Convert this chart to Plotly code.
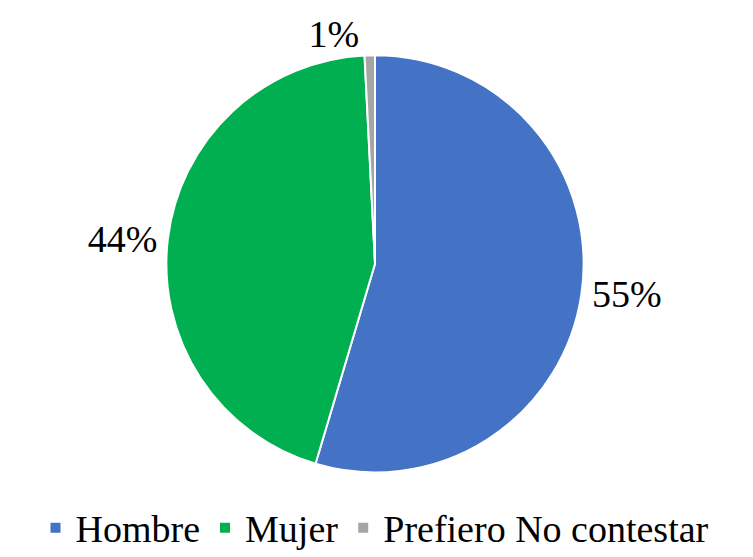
import plotly.graph_objects as go

labels = ["Hombre", "Mujer", "Prefiero No contestar"]
values = [54.6, 44.6, 0.8]
text_labels = ["55%", "44%", "1%"]
colors = ["#4472C4", "#00B050", "#A5A5A5"]

FONT = "Liberation Serif"
W, H = 753, 557
OFF = 8  # page body margin shifts the figure

fig = go.Figure()
fig.add_trace(go.Pie(
    labels=labels, values=values, text=text_labels,
    textinfo="text", textposition="outside",
    textfont=dict(family=FONT, size=38),
    marker=dict(colors=colors, line=dict(color="white", width=2)),
    sort=False, direction="clockwise", rotation=0,
    domain=dict(x=[(161 - OFF) / W, (589 - OFF) / W],
                y=[(H - 470 + OFF) / H, (H - 42 + OFF) / H]),
))

fig.update_layout(
    width=W, height=H,
    margin=dict(l=0, r=0, t=0, b=0),
    font=dict(color="black"),
    legend=dict(orientation="h", x=(375 - OFF) / W, xanchor="center",
                y=(H - 527 + OFF) / H, yanchor="middle",
                font=dict(family=FONT, size=38)),
)

fig.write_html("out.html")
